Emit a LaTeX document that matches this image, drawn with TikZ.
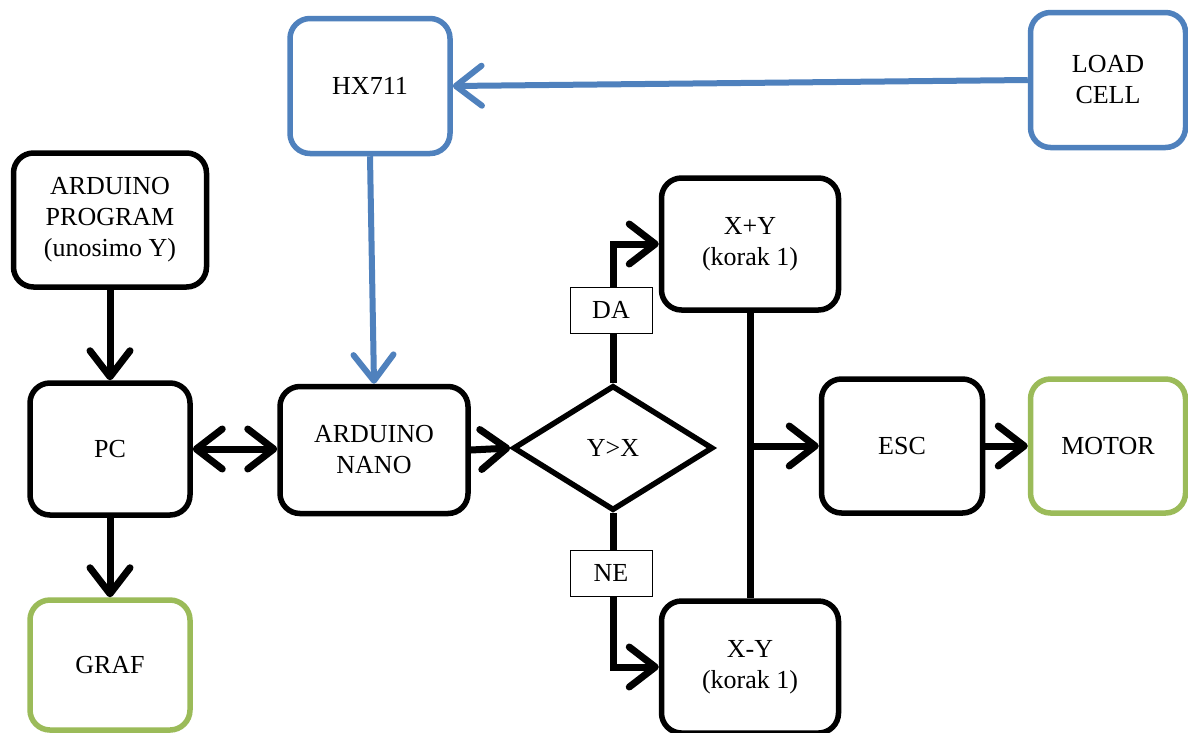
\documentclass[tikz,border=0pt]{standalone}
\usepackage{fontspec}
\setmainfont{Liberation Serif}
\usetikzlibrary{arrows.meta,shapes.geometric}
\definecolor{cblue}{RGB}{79,129,189}
\definecolor{cgreen}{RGB}{155,187,89}
\tikzset{
  box/.style={draw=black, line width=5.5pt, rounded corners=20pt, fill=white, align=center,
    font=\fontsize{26}{31}\selectfont, inner sep=0pt},
  bluebox/.style={box, draw=cblue},
  greenbox/.style={box, draw=cgreen},
  dec/.style={draw=black, line width=5.5pt, diamond, aspect=1.6, fill=white,
    minimum width=200pt, minimum height=125pt, inner sep=0pt, font=\fontsize{26}{31}\selectfont},
  lab/.style={draw=black, line width=0.8pt, fill=white, minimum width=82pt, minimum height=46pt,
    inner sep=0pt, font=\fontsize{26}{31}\selectfont},
  tipk/.tip={Straight Barb[length=26pt,width=40pt,round]},
  arr/.style={line width=7pt, -tipk},
  dbl/.style={line width=7pt, tipk-tipk},
  barr/.style={line width=6pt, draw=cblue, -tipk},
  conn/.style={line width=7pt},
}
\begin{document}
\begin{tikzpicture}[x=1pt,y=-1pt]
\useasboundingbox (0,0) rectangle (1188,732);
\fill[white] (0,0) rectangle (1188,732);
% nodes
\node[box, minimum width=193pt, minimum height=134pt] (prog) at (110,220) {ARDUINO\\PROGRAM\\(unosimo Y)};
\node[box, minimum width=160pt, minimum height=132pt] (pc) at (110,449) {PC};
\node[greenbox, minimum width=160pt, minimum height=130pt] (graf) at (110,665) {GRAF};
\node[bluebox, minimum width=160pt, minimum height=135pt] (hx) at (370,86) {HX711};
\node[bluebox, minimum width=155pt, minimum height=135pt] (load) at (1108,80) {LOAD\\CELL};
\node[box, minimum width=188pt, minimum height=127pt] (nano) at (374,450) {ARDUINO\\NANO};
\node[dec] (dia) at (613,448) {Y>X};
\node[box, minimum width=177pt, minimum height=132pt] (xpy) at (750,244) {X+Y\\(korak 1)};
\node[box, minimum width=177pt, minimum height=132pt] (xmy) at (750,667) {X-Y\\(korak 1)};
\node[box, minimum width=161pt, minimum height=134pt] (esc) at (902,446) {ESC};
\node[greenbox, minimum width=155pt, minimum height=134pt] (motor) at (1108,446) {MOTOR};
% connectors
\draw[arr] (prog) -- (pc);
\draw[arr] (pc) -- (graf);
\draw[dbl] (pc.east) -- (nano.west |- pc.east);
\draw[barr] (hx.south) -- (nano.north);
\draw[barr] (load.west) -- (hx.east);
\draw[arr] (nano.east) -- (dia.west);
\draw[arr] (dia.north) |- (xpy.west);
\draw[arr] (dia.south) |- (xmy.west);
\draw[conn] (xpy.south) -- (xmy.north);
\coordinate (j) at (xpy.south |- esc.west);
\draw[arr] (j) -- (esc.west);
\draw[arr] (esc) -- (motor);
% labels
\node[lab] (da) at (611,310) {DA};
\node[lab] (ne) at (611,573) {NE};
\end{tikzpicture}
\end{document}
